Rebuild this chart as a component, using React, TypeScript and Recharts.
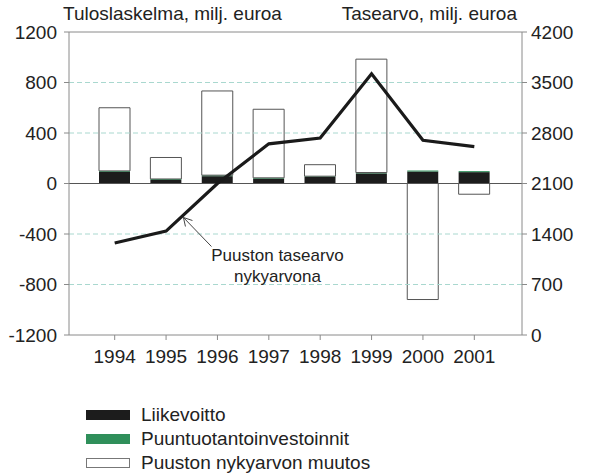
import React from "react";
import {
  ComposedChart,
  Bar,
  Line,
  XAxis,
  YAxis,
  ReferenceLine,
  ReferenceDot,
} from "recharts";

const years = ["1994", "1995", "1996", "1997", "1998", "1999", "2000", "2001"];
const liikevoitto = [92, 28, 58, 38, 52, 80, 95, 90];
const investoinnit = [8, 8, 8, 7, 6, 7, 8, 8];
const nykyarvonMuutos = [500, 170, 667, 543, 91, 898, -919, -85];
const tasearvo = [1275, 1440, 2100, 2650, 2730, 3620, 2700, 2610];

const leftTicks = [-1200, -800, -400, 0, 400, 800, 1200];
const rightTicks = [0, 700, 1400, 2100, 2800, 3500, 4200];

const seriesNames = {
  liikevoitto: "Liikevoitto",
  investoinnit: "Puuntuotantoinvestoinnit",
  muutos: "Puuston nykyarvon muutos",
};

const data = years.map((year, i) => ({
  year,
  liikevoitto: liikevoitto[i],
  investoinnit: investoinnit[i],
  muutos: nykyarvonMuutos[i],
  tasearvo: tasearvo[i],
}));

const font = '"Liberation Sans", Arial, sans-serif';
const axisGray = "#8a8a8a";
const textColor = "#222";
const fontSize = 19;

const legendItems = [
  { name: seriesNames.liikevoitto, fill: "#1c1c1c", stroke: "#1c1c1c" },
  { name: seriesNames.investoinnit, fill: "#2f8f5a", stroke: "#2f8f5a" },
  { name: seriesNames.muutos, fill: "#ffffff", stroke: "#777" },
];

// arrow + text for the line annotation, drawn relative to the 1996 point
const Annotation = (props: any) => {
  const { cx, cy } = props;
  const tipX = cx - 34;
  const tipY = cy + 34;
  const startX = cx - 6;
  const startY = cy + 63;
  return (
    <g>
      <line x1={startX} y1={startY} x2={tipX} y2={tipY} stroke="#444" strokeWidth={1} />
      <polyline
        points={`${tipX + 2},${tipY + 9} ${tipX},${tipY} ${tipX + 9},${tipY + 3}`}
        fill="none"
        stroke="#444"
        strokeWidth={1}
      />
      <text
        x={cx + 60}
        y={cy + 77}
        textAnchor="middle"
        fontSize={17}
        fontFamily={font}
        fill={textColor}
      >
        Puuston tasearvo
      </text>
      <text
        x={cx + 60}
        y={cy + 98}
        textAnchor="middle"
        fontSize={17}
        fontFamily={font}
        fill={textColor}
      >
        nykyarvona
      </text>
    </g>
  );
};

export default function App() {
  return (
    <div
      style={{
        position: "absolute",
        left: 0,
        top: 0,
        width: 590,
        height: 473,
        background: "#fff",
        fontFamily: font,
        color: textColor,
      }}
    >
      <div style={{ position: "absolute", left: 63, top: 3, fontSize }}>
        Tuloslaskelma, milj. euroa
      </div>
      <div style={{ position: "absolute", right: 73, top: 3, fontSize }}>
        Tasearvo, milj. euroa
      </div>

      <ComposedChart
        width={590}
        height={473}
        data={data}
        stackOffset="sign"
        margin={{ top: 32, right: 0, left: 0, bottom: 100 }}
      >
        <XAxis
          dataKey="year"
          yAxisId="left"
          height={38}
          padding={{ left: 20, right: 22 }}
          axisLine={{ stroke: axisGray }}
          tickLine={{ stroke: axisGray }}
          tickSize={5}
          tickMargin={10}
          tick={{ fontSize, fill: textColor, fontFamily: font }}
          interval={0}
        />
        <YAxis
          yAxisId="left"
          domain={[-1200, 1200]}
          ticks={leftTicks}
          interval={0}
          width={69}
          axisLine={{ stroke: axisGray }}
          tickLine={{ stroke: axisGray }}
          tickSize={5}
          tickMargin={7}
          tick={{ fontSize, fill: textColor, fontFamily: font }}
        />
        <YAxis
          yAxisId="right"
          orientation="right"
          domain={[0, 4200]}
          ticks={rightTicks}
          interval={0}
          width={68}
          axisLine={{ stroke: axisGray }}
          tickLine={{ stroke: axisGray }}
          tickSize={5}
          tickMargin={4}
          tick={{ fontSize, fill: textColor, fontFamily: font }}
        />
        {leftTicks
          .filter((t) => t !== 0 && Math.abs(t) !== 1200)
          .map((t) => (
            <ReferenceLine
              key={t}
              yAxisId="left"
              y={t}
              stroke="#a9d8cf"
              strokeDasharray="5 3"
            />
          ))}
        <ReferenceLine yAxisId="left" y={1200} stroke={axisGray} />
        <Bar
          yAxisId="left"
          dataKey="liikevoitto"
          name={seriesNames.liikevoitto}
          stackId="a"
          fill="#1c1c1c"
          barSize={31}
          isAnimationActive={false}
        />
        <Bar
          yAxisId="left"
          dataKey="investoinnit"
          name={seriesNames.investoinnit}
          stackId="a"
          fill="#2f8f5a"
          barSize={31}
          isAnimationActive={false}
        />
        <Bar
          yAxisId="left"
          dataKey="muutos"
          name={seriesNames.muutos}
          stackId="a"
          fill="#ffffff"
          stroke="#555"
          strokeWidth={1}
          barSize={31}
          isAnimationActive={false}
        />
        <ReferenceLine yAxisId="left" y={0} stroke="#555" strokeWidth={1.2} />
        <Line
          yAxisId="right"
          dataKey="tasearvo"
          type="linear"
          stroke="#1a1a1a"
          strokeWidth={3.2}
          dot={false}
          isAnimationActive={false}
        />
        <ReferenceDot
          yAxisId="right"
          x="1996"
          y={tasearvo[2]}
          r={0}
          shape={<Annotation />}
        />
      </ComposedChart>

      <div style={{ position: "absolute", left: 86, top: 403 }}>
        {legendItems.map((item) => (
          <div
            key={item.name}
            style={{ display: "flex", alignItems: "center", height: 24, fontSize }}
          >
            <span
              style={{
                display: "inline-block",
                width: 42,
                height: 8,
                background: item.fill,
                border: `1px solid ${item.stroke}`,
                marginRight: 11,
              }}
            />
            {item.name}
          </div>
        ))}
      </div>
    </div>
  );
}
